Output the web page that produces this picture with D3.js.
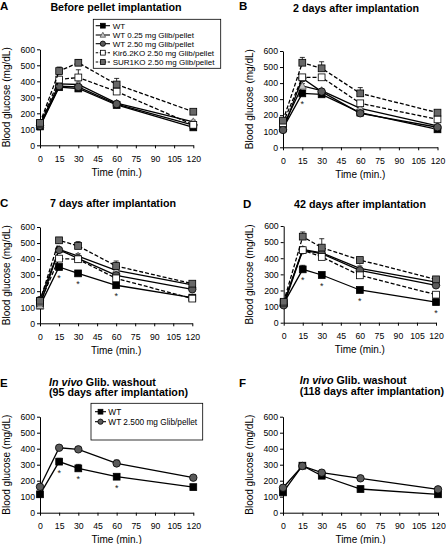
<!DOCTYPE html>
<html><head><meta charset="utf-8">
<script src="https://cdn.jsdelivr.net/npm/d3@7"></script>
<style>
body{margin:0;background:#fff;}
svg{display:block;font-family:Arial,"Liberation Sans",sans-serif;}
</style></head>
<body><svg id="chart" width="446" height="544"></svg>
<script>
// ---------- data ----------
const times = [0, 15, 30, 60, 120];
const xTickValues = [0, 15, 30, 45, 60, 75, 90, 105, 120];
const yTickValues = [0, 100, 200, 300, 400, 500, 600];
const seriesNames = ["WT", "WT 0.25 mg Glib/pellet", "WT 2.50 mg Glib/pellet",
  "Kir6.2KO 2.50 mg Glib/pellet", "SUR1KO 2.50 mg Glib/pellet"];
const washoutNames = ["WT", "WT 2.500 mg Glib/pellet"];
const panelLetters = ["A", "B", "C", "D", "E", "F"];
const panelTitles = ["Before pellet  implantation", "2 days after implantation",
  "7 days after implantation", "42 days after implantation",
  "(95 days after implantation)", "(118 days after implantation)"];

const valuesA = [[118,363,355,252,112],[130,384,380,264,147],[122,370,365,258,126],[135,411,424,336,128],[140,464,516,380,210]];
const errorsA = [[10,15,12,10,8],[10,15,15,12,10],[10,15,12,10,8],[10,20,48,15,10],[10,25,20,38,10]];
const valuesB = [[118,336,330,216,112],[130,382,353,243,133],[108,430,347,212,125],[150,436,436,274,174],[166,527,492,336,216]];
const errorsB = [[10,15,10,10,8],[10,15,10,10,8],[10,15,10,10,8],[10,15,12,12,10],[10,33,41,36,10]];
const valuesC = [[110,351,311,237,160],[112,461,419,330,239],[145,457,405,299,212],[130,403,399,280,154],[140,517,482,357,247]];
const errorsC = [[10,15,12,10,8],[10,12,15,15,10],[10,12,12,15,10],[10,12,12,12,8],[10,10,27,31,10]];
const valuesD = [[120,331,296,203,128],[120,455,434,337,252],[108,449,428,325,232],[125,450,408,294,174],[130,534,466,389,269]];
const errorsD = [[10,25,10,10,8],[10,15,12,15,10],[10,15,12,12,10],[10,12,12,12,10],[10,29,55,12,12]];
const valuesE = [[115,319,277,225,160],[162,406,396,308,219]];
const errorsE = [[10,21,25,12,8],[10,10,15,21,10]];
const valuesF = [[127,294,231,148,115],[156,292,250,215,146]];
const errorsF = [[10,8,10,10,8],[10,10,15,12,10]];
const starsA = [], starsB = [15], starsC = [15, 30, 60], starsD = [15, 30, 60, 120], starsE = [15, 30, 60], starsF = [];

// ---------- styles ----------
const styles5 = [
  {shape: "square", fill: "#000", dash: null},
  {shape: "triangle", fill: "#c4c4c4", dash: null},
  {shape: "circle", fill: "#5a5a5a", dash: null},
  {shape: "square", fill: "#fff", dash: "4,2"},
  {shape: "square", fill: "#686868", dash: "4,2"}
];
const styles2 = [styles5[0], styles5[2]];

// ---------- layout ----------
const panels = [
  {values: valuesA, errors: errorsA, stars: starsA, styles: styles5, x0: 40, x1: 193.3, yT: 49.3, yB: 145.3,
   letter: [0, 10], title: {x: 116, y: 11, anchor: "middle"}},
  {values: valuesB, errors: errorsB, stars: starsB, styles: styles5, x0: 283, x1: 437.5, yT: 51, yB: 147.3,
   letter: [239, 10], title: {x: 356, y: 11.5, anchor: "middle"}},
  {values: valuesC, errors: errorsC, stars: starsC, styles: styles5, x0: 40, x1: 192.3, yT: 227, yB: 323.3,
   letter: [0, 206.7], title: {x: 113, y: 206.5, anchor: "middle"}},
  {values: valuesD, errors: errorsD, stars: starsD, styles: styles5, x0: 283.7, x1: 436, yT: 226, yB: 322.7,
   letter: [243, 207.7], title: {x: 360, y: 207.5, anchor: "middle"}},
  {values: valuesE, errors: errorsE, stars: starsE, styles: styles2, x0: 40, x1: 193.3, yT: 416.7, yB: 512.7,
   letter: [0, 386.7], title: {x: 49, y: 385.7, anchor: "start", two: true}},
  {values: valuesF, errors: errorsF, stars: starsF, styles: styles2, x0: 283, x1: 438, yT: 416.7, yB: 512.7,
   letter: [239, 387.3], title: {x: 299.7, y: 384, anchor: "start", two: true}}
];

const svg = d3.select("#chart");

function drawMarker(g, shape, cx, cy, fill, r) {
  if (shape === "square") {
    g.append("rect").attr("x", cx - r).attr("y", cy - r).attr("width", 2 * r).attr("height", 2 * r)
      .attr("fill", fill).attr("stroke", "#000").attr("stroke-width", 0.8);
  } else if (shape === "circle") {
    g.append("circle").attr("cx", cx).attr("cy", cy).attr("r", r * 1.1)
      .attr("fill", fill).attr("stroke", "#000").attr("stroke-width", 0.8);
  } else {
    const h = r * 1.15;
    g.append("path").attr("d", `M${cx},${cy - h}L${cx + h},${cy + h * 0.8}L${cx - h},${cy + h * 0.8}Z`)
      .attr("fill", fill).attr("stroke", "#555").attr("stroke-width", 0.8);
  }
}

panels.forEach((p, i) => {
  const x = d3.scaleLinear().domain([0, 120]).range([p.x0, p.x1]);
  const y = d3.scaleLinear().domain([0, 600]).range([p.yB, p.yT]);
  const g = svg.append("g");

  // axes
  const ax = g.append("g").attr("transform", `translate(0,${p.yB})`)
    .call(d3.axisBottom(x).tickValues(xTickValues).tickSize(3).tickSizeOuter(0).tickPadding(7.5));
  const ay = g.append("g").attr("transform", `translate(${p.x0},0)`)
    .call(d3.axisLeft(y).tickValues(yTickValues).tickSize(3).tickSizeOuter(0).tickPadding(2));
  [ax, ay].forEach(a => {
    a.selectAll("path,line").attr("stroke", "#000").attr("stroke-width", 1);
    a.selectAll("text").attr("font-size", 8.7).attr("fill", "#000").attr("font-family", "Arial, 'Liberation Sans', sans-serif");
  });

  // axis titles
  g.append("text").attr("x", (p.x0 + p.x1) / 2).attr("y", p.yB + 30.7).attr("text-anchor", "middle")
    .attr("font-size", 10).text("Time (min.)");
  g.append("text").attr("transform", `translate(${p.x0 - 30.5},${(p.yT + p.yB) / 2}) rotate(-90)`)
    .attr("text-anchor", "middle").attr("font-size", 10).text("Blood glucose (mg/dL)");

  // panel letter
  g.append("text").attr("x", p.letter[0]).attr("y", p.letter[1]).attr("font-size", 11.5)
    .attr("font-weight", "bold").text(panelLetters[i]);

  // title
  if (p.title.two) {
    const t1 = g.append("text").attr("x", p.title.x).attr("y", p.title.y).attr("font-size", 10.7).attr("font-weight", "bold");
    t1.append("tspan").attr("font-style", "italic").text("In vivo");
    t1.append("tspan").text(" Glib. washout");
    g.append("text").attr("x", p.title.x).attr("y", p.title.y + 10.5).attr("font-size", 10.7)
      .attr("font-weight", "bold").text(panelTitles[i]);
  } else {
    g.append("text").attr("x", p.title.x).attr("y", p.title.y).attr("text-anchor", p.title.anchor)
      .attr("font-size", 10.7).attr("font-weight", "bold").text(panelTitles[i]);
  }

  // series
  const line = d3.line().x((d, k) => x(times[k])).y(d => y(d));
  p.values.forEach((vals, s) => {
    const st = p.styles[s];
    const sg = g.append("g");
    sg.append("path").attr("d", line(vals)).attr("fill", "none").attr("stroke", "#000")
      .attr("stroke-width", 1.3).attr("stroke-dasharray", st.dash);
    vals.forEach((v, k) => {
      const e = p.errors[s][k];
      const cx = x(times[k]);
      sg.append("line").attr("x1", cx).attr("x2", cx).attr("y1", y(v)).attr("y2", y(v + e))
        .attr("stroke", "#000").attr("stroke-width", 0.8);
      sg.append("line").attr("x1", cx - 2.5).attr("x2", cx + 2.5).attr("y1", y(v + e)).attr("y2", y(v + e))
        .attr("stroke", "#000").attr("stroke-width", 0.8);
    });
    vals.forEach((v, k) => drawMarker(sg, st.shape, x(times[k]), y(v), st.fill, 3.4));
  });

  // significance stars under WT
  p.stars.forEach(t => {
    const k = times.indexOf(t);
    g.append("text").attr("x", x(t)).attr("y", y(p.values[0][k]) + 14).attr("text-anchor", "middle")
      .attr("font-size", 9).attr("fill", "#222").text("*");
  });
});

// legends
function legend(x0, y0, w, h, names, styles, rows, lineX0, lineX1, textX, fs) {
  const g = svg.append("g");
  g.append("rect").attr("x", x0).attr("y", y0).attr("width", w).attr("height", h)
    .attr("fill", "#fff").attr("stroke", "#000").attr("stroke-width", 0.8);
  names.forEach((n, i) => {
    const yy = rows[i];
    g.append("line").attr("x1", lineX0).attr("x2", lineX1).attr("y1", yy).attr("y2", yy)
      .attr("stroke", "#000").attr("stroke-width", 1.1).attr("stroke-dasharray", styles[i].dash ? "2.5,1.5" : null);
    drawMarker(g, styles[i].shape, (lineX0 + lineX1) / 2, yy, styles[i].fill, 2.4);
    g.append("text").attr("x", textX).attr("y", yy + 3).attr("font-size", fs).text(n);
  });
}
legend(93.3, 19.3, 127.4, 49, seriesNames, styles5, [25.7, 35, 43.7, 52.7, 62], 95.7, 110, 112.7, 8);
legend(91, 403.3, 111.7, 36.7, washoutNames, styles2, [411.7, 421.7], 95, 106, 108.3, 8.3);
</script></body></html>
